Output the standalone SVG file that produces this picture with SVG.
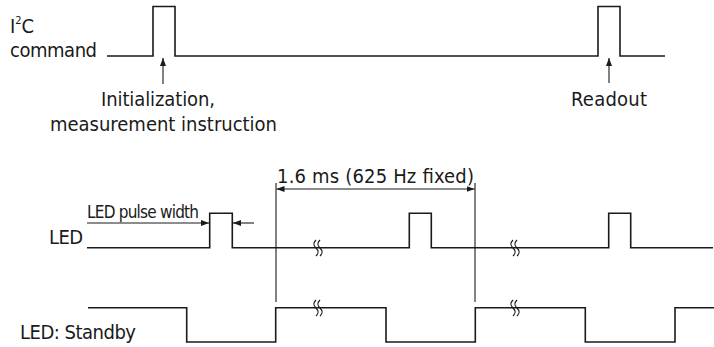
<svg xmlns="http://www.w3.org/2000/svg" width="714" height="347" viewBox="0 0 714 347">
<defs>
<style>
.t{font-family:"DejaVu Sans Condensed","DejaVu Sans",sans-serif;font-size:20px;fill:#1a1a1a}
.s{font-size:17px}
.w{fill:none;stroke:#1a1a1a;stroke-width:1.6}
.d{fill:none;stroke:#1a1a1a;stroke-width:1.1}
.q{fill:#fff;stroke:#1a1a1a;stroke-width:1.2}
</style>
<marker id="ah" viewBox="0 0 8 6" refX="8" refY="3" markerWidth="8" markerHeight="6" markerUnits="userSpaceOnUse" orient="auto">
<path d="M0,0 L8,3 L0,6 Z" fill="#1a1a1a"/>
</marker>
<marker id="ahs" viewBox="0 0 8 6" refX="8" refY="3" markerWidth="8" markerHeight="6" markerUnits="userSpaceOnUse" orient="auto-start-reverse">
<path d="M0,0 L8,3 L0,6 Z" fill="#1a1a1a"/>
</marker>
</defs>
<rect width="714" height="347" fill="#fff"/>

<g id="i2c">
<text class="t" x="10" y="33">I<tspan font-size="11" dy="-9">2</tspan><tspan dy="9">C</tspan></text>
<text class="t" x="10" y="57" textLength="87">command</text>
<path class="w" d="M107,56 H153 V6.5 H175 V56 H598 V6.5 H620 V56 H665"/>
</g>

<g id="init-label">
<text class="t" x="101" y="106" textLength="114">Initialization,</text>
<text class="t" x="50" y="131" textLength="227">measurement instruction</text>
</g>

<g id="readout-label">
<text class="t" x="571" y="106" textLength="76">Readout</text>
</g>

<g id="led">
<text class="t" x="49" y="244" textLength="34">LED</text>
<path class="w" d="M87,247.7 H209.7 V213.3 H232.3 V247.7 H409.3 V213.3 H431.3 V247.7 H608.7 V213.3 H630.7 V247.7 H713"/>
</g>

<g id="standby">
<text class="t" x="20" y="339" textLength="116">LED: Standby</text>
<path class="w" d="M88,307.7 H186.7 V342 H275.7 V307.7 H386 V342 H475.3 V307.7 H585.3 V342 H675 V307.7 H714"/>
</g>

<g id="breaks">
<path class="q" d="M316,240 c-3,3 -3,5 0,8 s3,5 0,8 M320,240 c-3,3 -3,5 0,8 s3,5 0,8"/>
<path class="q" d="M513,240 c-3,3 -3,5 0,8 s3,5 0,8 M517,240 c-3,3 -3,5 0,8 s3,5 0,8"/>
<path class="q" d="M316,300 c-3,3 -3,5 0,8 s3,5 0,8 M320,300 c-3,3 -3,5 0,8 s3,5 0,8"/>
<path class="q" d="M513,300 c-3,3 -3,5 0,8 s3,5 0,8 M517,300 c-3,3 -3,5 0,8 s3,5 0,8"/>
</g>

<g id="connectors">
<line class="d" x1="163" y1="84" x2="163" y2="58" marker-end="url(#ah)"/>
<line class="d" x1="609" y1="83" x2="609" y2="58" marker-end="url(#ah)"/>
<line class="d" x1="87" y1="223" x2="209" y2="223" marker-end="url(#ah)"/>
<line class="d" x1="254" y1="223" x2="233" y2="223" marker-end="url(#ah)"/>
<line class="d" x1="276" y1="183" x2="276" y2="302"/>
<line class="d" x1="475" y1="183" x2="475" y2="302"/>
<line class="d" x1="276.5" y1="189" x2="474.5" y2="189" marker-start="url(#ahs)" marker-end="url(#ah)"/>
</g>

<g id="dim-label">
<text class="t" x="277" y="183" textLength="197">1.6 ms (625 Hz fixed)</text>
<text class="t s" x="87" y="218" textLength="112">LED pulse width</text>
</g>
</svg>
